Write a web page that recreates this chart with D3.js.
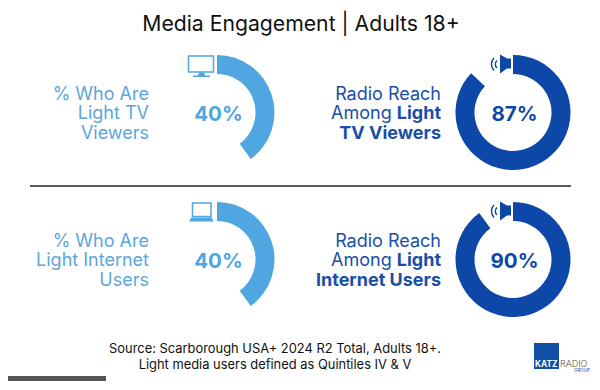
<!DOCTYPE html>
<html>
<head>
<meta charset="utf-8">
<script src="https://cdn.jsdelivr.net/npm/d3@7"></script>
<style>
  html, body { margin: 0; padding: 0; background: #fff; }
  svg { display: block; }
  text { font-family: Inter, "Noto Sans", sans-serif; }
</style>
</head>
<body>
<svg id="chart"></svg>
<script>
const title = "Media Engagement | Adults 18+";
const percents = [40, 87, 40, 90];
const icons = ["tv", "speaker", "laptop", "speaker"];
const tones = ["light", "dark", "light", "dark"];
// each line is a list of [text, isBold] runs
const labels = [
  [[["% Who Are", false]], [["Light TV", false]], [["Viewers", false]]],
  [[["Radio Reach", false]], [["Among ", false], ["Light", true]], [["TV Viewers", true]]],
  [[["% Who Are", false]], [["Light Internet", false]], [["Users", false]]],
  [[["Radio Reach", false]], [["Among ", false], ["Light", true]], [["Internet Users", true]]]
];
const sourceLines = [
  "Source: Scarborough USA+ 2024 R2 Total, Adults 18+.",
  "Light media users defined as Quintiles IV & V"
];

const W = 600, H = 390;
const colors = { light: "#4fa6e0", dark: "#0d47a8" };
const labelColors = { light: "#5ba6dc", dark: "#1a4fa6" };

const svg = d3.select("#chart").attr("width", W).attr("height", H);

// panel grid: 2 x 2 donuts
const xCol = d3.scalePoint().domain([0, 1]).range([217, 513]);
const yRow = d3.scalePoint().domain([0, 1]).range([112.5, 259.5]);
const labelRight = [149, 441];

const outerR = 57.5, innerR = 38.5;
const arc = d3.arc().innerRadius(innerR).outerRadius(outerR);
const pie = d3.pie().sort(null);

svg.append("text")
  .attr("x", 301).attr("y", 31)
  .attr("text-anchor", "middle")
  .attr("font-size", 21.2)
  .attr("fill", "#111")
  .text(title);

svg.append("line")
  .attr("x1", 30).attr("x2", 571)
  .attr("y1", 186).attr("y2", 186)
  .attr("stroke", "#222")
  .attr("stroke-width", 1.5);

const drawIcon = (g, kind, color) => {
  if (kind === "tv") {
    g.append("rect").attr("x", -28.5).attr("y", -56.5).attr("width", 25).attr("height", 16)
      .attr("fill", "none").attr("stroke", color).attr("stroke-width", 1.5);
    g.append("path").attr("fill", color)
      .attr("d", "M-18,-40 h5 l1,3 h5 v1.5 h-17 v-1.5 h5 z");
  } else if (kind === "laptop") {
    g.append("rect").attr("x", -24.5).attr("y", -56.5).attr("width", 18.5).attr("height", 13.5)
      .attr("fill", "none").attr("stroke", color).attr("stroke-width", 1.5);
    g.append("path").attr("fill", color)
      .attr("d", "M-25.5,-42 h20 l2,4 h-24.5 z");
  } else {
    g.append("path").attr("fill", color)
      .attr("d", "M-13,-58 l7,4 h4 v10 h-4 l-7,5 z");
    g.append("path").attr("fill", "none").attr("stroke", color).attr("stroke-width", 1.4)
      .attr("d", "M-16,-52 a5,5 0 0 0 0,7.5 M-19,-54.5 a9,9 0 0 0 0,12.5");
  }
};

percents.forEach((pct, i) => {
  const col = i % 2, row = Math.floor(i / 2);
  const color = colors[tones[i]];
  const g = svg.append("g")
    .attr("transform", `translate(${xCol(col)},${yRow(row)})`);

  g.selectAll("path.slice")
    .data(pie([pct, 100 - pct]).slice(0, 1))
    .enter().append("path")
    .attr("class", "slice")
    .attr("d", arc)
    .attr("fill", color);

  g.append("text")
    .attr("x", 1.5)
    .attr("y", 8.5)
    .attr("text-anchor", "middle")
    .attr("font-size", 20.5)
    .attr("font-weight", 700)
    .attr("fill", color)
    .text(`${pct}%`);

  drawIcon(g, icons[i], color);

  const label = svg.append("text")
    .attr("text-anchor", "end")
    .attr("font-size", 18)
    .attr("fill", labelColors[tones[i]]);
  labels[i].forEach((runs, j) => {
    const line = label.append("tspan")
      .attr("x", labelRight[col])
      .attr("y", yRow(row) - 12.5 + j * 19.3);
    runs.forEach(([t, bold]) => {
      line.append("tspan").attr("font-weight", bold ? 700 : 400).text(t);
    });
  });
});

svg.append("text")
  .attr("text-anchor", "middle")
  .attr("font-size", 12.9)
  .attr("fill", "#111")
  .selectAll("tspan")
  .data(sourceLines)
  .enter().append("tspan")
  .attr("x", 275)
  .attr("y", (d, i) => 353 + i * 16)
  .text(d => d);

// logo
const logo = svg.append("g");
logo.append("rect").attr("x", 534).attr("y", 343).attr("width", 25).attr("height", 26).attr("fill", "#1150a8");
logo.append("text").attr("x", 535).attr("y", 367).attr("font-size", 8.3).attr("font-weight", 700).attr("fill", "#fff").text("KATZ");
logo.append("text").attr("x", 560).attr("y", 367).attr("font-size", 9).attr("font-weight", 300).attr("fill", "#555").text("RADIO");
logo.append("text").attr("x", 590).attr("y", 372).attr("text-anchor", "end").attr("font-size", 4.5).attr("fill", "#1150a8").text("GROUP");

svg.append("rect")
  .attr("x", 8).attr("y", 376).attr("width", 98).attr("height", 5)
  .attr("fill", "#555");
</script>
</body>
</html>
